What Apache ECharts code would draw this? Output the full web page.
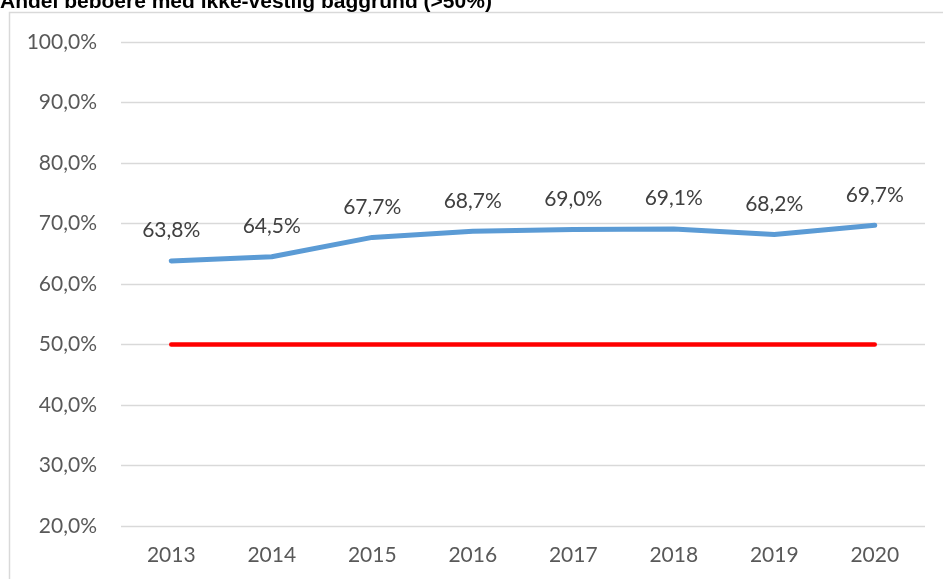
<!DOCTYPE html>
<html><head><meta charset="utf-8">
<script src="https://cdn.jsdelivr.net/npm/echarts@6/dist/echarts.min.js"></script>
<style>html,body{margin:0;padding:0;background:#fff}#c{width:943px;height:579px}</style>
</head><body><div id="c"></div>
<script>
const titleText = 'Andel beboere med ikke-vestlig baggrund (>50%)';
const years = ['2013','2014','2015','2016','2017','2018','2019','2020'];
const shareValues = [63.8, 64.5, 67.7, 68.7, 69.0, 69.1, 68.2, 69.7];
const thresholdValues = [50, 50, 50, 50, 50, 50, 50, 50];
const yMin = 20, yMax = 100, yStep = 10;

const fmt = v => v.toFixed(1).replace('.', ',') + '%';
const font = 'Lato, "Noto Sans", sans-serif';
const chart = echarts.init(document.getElementById('c'));
chart.setOption({
  animation: false,
  backgroundColor: '#fff',
  title: {
    text: titleText, left: 0, top: -8, padding: 0,
    textStyle: {fontFamily: '"Liberation Sans", Arial, sans-serif', fontWeight: 'bold', fontSize: 21, color: '#000'}
  },
  graphic: [{
    type: 'rect', silent: true, z: -1,
    shape: {x: 9.5, y: 12.5, width: 1000, height: 1000},
    style: {fill: 'none', stroke: '#d9d9d9', lineWidth: 1.5}
  }],
  grid: {left: 121, right: 18, top: 42, bottom: 53, containLabel: false},
  xAxis: {
    type: 'category', data: years, boundaryGap: true,
    axisLine: {show: false}, axisTick: {show: false},
    axisLabel: {color: '#595959', fontFamily: font, fontSize: 21, margin: 19}
  },
  yAxis: {
    type: 'value', min: yMin, max: yMax, interval: yStep,
    axisLine: {show: false}, axisTick: {show: false},
    splitLine: {lineStyle: {color: '#d9d9d9', width: 1.3}},
    axisLabel: {color: '#595959', fontFamily: font, fontSize: 21, margin: 24, formatter: v => fmt(v)}
  },
  series: [{
    type: 'line', data: shareValues, symbol: 'circle', symbolSize: 2, showSymbol: true, z: 3,
    itemStyle: {color: '#5b9bd5', borderWidth: 0},
    lineStyle: {color: '#5b9bd5', width: 5, cap: 'round', join: 'round'},
    label: {show: true, position: 'top', distance: 19, color: '#404040', fontFamily: font, fontSize: 21,
      formatter: p => fmt(p.value)},
    labelLayout: {hideOverlap: false}
  }, {
    type: 'line', data: thresholdValues, symbol: 'none', z: 2,
    lineStyle: {color: '#ff0000', width: 4.5, cap: 'round'}
  }]
});
</script></body></html>
